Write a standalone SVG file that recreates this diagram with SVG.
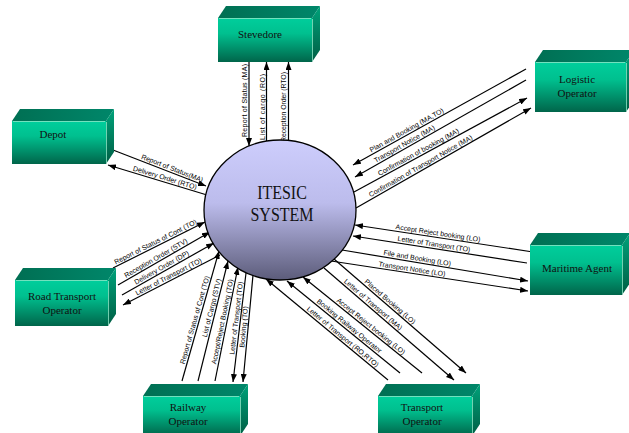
<svg xmlns="http://www.w3.org/2000/svg" width="629" height="433" viewBox="0 0 629 433">
  <defs>
    <linearGradient id="gFront" x1="0" y1="0" x2="0" y2="1">
      <stop offset="0" stop-color="#00CE9C"/>
      <stop offset="0.35" stop-color="#00C08F"/>
      <stop offset="1" stop-color="#00654A"/>
    </linearGradient>
    <linearGradient id="gTop" x1="0" y1="0" x2="1" y2="0">
      <stop offset="0" stop-color="#006F53"/>
      <stop offset="1" stop-color="#00876A"/>
    </linearGradient>
    <linearGradient id="gSide" x1="0" y1="0" x2="0" y2="1">
      <stop offset="0" stop-color="#00A27A"/>
      <stop offset="1" stop-color="#005E44"/>
    </linearGradient>
    <linearGradient id="gCore" x1="0" y1="0" x2="0" y2="1">
      <stop offset="0" stop-color="#CDCDFC"/>
      <stop offset="0.45" stop-color="#BCBCEC"/>
      <stop offset="1" stop-color="#5C5C7A"/>
    </linearGradient>
    <marker id="arrow" viewBox="0 0 8 6" refX="8" refY="3" markerWidth="8" markerHeight="6" markerUnits="userSpaceOnUse" orient="auto">
      <path d="M0,0 L8,3 L0,6 z" fill="#000"/>
    </marker>
  </defs>
  <style>
    .front { fill: url(#gFront); }
    .top { fill: url(#gTop); }
    .side { fill: url(#gSide); }
    .hl { stroke: #8FE6C6; stroke-width: 0.8; fill: none; }
    .name { font-family: "Liberation Serif", "Times New Roman", serif; font-size: 11px; fill: #111; text-anchor: middle; }
    .core { fill: url(#gCore); stroke: #000; stroke-width: 1.3; }
    .coreName { font-family: "Liberation Serif", "Times New Roman", serif; font-size: 16px; fill: #111; text-anchor: middle; }
    .wire { stroke: #000; stroke-width: 1.2; fill: none; }
    .to { marker-end: url(#arrow); }
    .lbl { font-family: "Liberation Sans", Arial, sans-serif; font-size: 7px; fill: #000; }
  </style>

  <rect width="629" height="433" fill="#fff"/>

  <!-- connectors -->
  <g id="connectors">
    <!-- Stevedore -->
    <line class="wire to" x1="249" y1="62" x2="249" y2="146"/>
    <text class="lbl" transform="translate(249,137) rotate(-90)" y="-2" textLength="73" lengthAdjust="spacing">Report of Status (MA)</text>
    <line class="wire to" x1="266.5" y1="141" x2="266.5" y2="62"/>
    <text class="lbl" transform="translate(266.5,140) rotate(-90)" y="-2" textLength="66" lengthAdjust="spacing">List of cargo (RO)</text>
    <line class="wire to" x1="288.5" y1="140" x2="288.5" y2="62"/>
    <text class="lbl" transform="translate(288.5,142) rotate(-90)" y="-3" textLength="70" lengthAdjust="spacing">Reception Order (RTO)</text>

    <!-- Depot -->
    <line class="wire to" x1="113" y1="150" x2="206" y2="186"/>
    <text class="lbl" transform="translate(140,160.5) rotate(21.2)" y="-2">Report of Status(MA)</text>
    <line class="wire to" x1="207" y1="195" x2="108" y2="165"/>
    <text class="lbl" transform="translate(132,172.3) rotate(16.9)" y="-2">Delivery Order (RTO)</text>

    <!-- Logistic Operator -->
    <line class="wire to" x1="526" y1="69" x2="353" y2="165"/>
    <text class="lbl" transform="translate(372.3,154.3) rotate(-29)" y="-2">Plan and Booking (MA,TO)</text>
    <line class="wire to" x1="526" y1="80" x2="355" y2="177"/>
    <text class="lbl" transform="translate(376.8,164.7) rotate(-29.6)" y="-2">Transport Notice (MA)</text>
    <line class="wire to" x1="354" y1="192" x2="527" y2="98"/>
    <text class="lbl" transform="translate(380.4,177.7) rotate(-28.5)" y="-2">Confirmation of booking (MA)</text>
    <line class="wire to" x1="356" y1="208" x2="531" y2="108"/>
    <text class="lbl" transform="translate(371.6,199.1) rotate(-29.7)" y="-2">Confirmation of Transport Notice (MA)</text>

    <!-- Maritime Agent -->
    <line class="wire to" x1="533" y1="252" x2="355" y2="225"/>
    <text class="lbl" transform="translate(395,231.1) rotate(8.6)" y="-2">Accept Reject booking (LO)</text>
    <line class="wire to" x1="527" y1="263" x2="353" y2="236"/>
    <text class="lbl" transform="translate(397,242.8) rotate(8.8)" y="-2">Letter of Transport (TO)</text>
    <line class="wire to" x1="342" y1="250" x2="528" y2="281"/>
    <text class="lbl" transform="translate(383,256.8) rotate(9.5)" y="-2">File and Booking (LO)</text>
    <line class="wire to" x1="331" y1="261" x2="528" y2="291"/>
    <text class="lbl" transform="translate(378,268.2) rotate(8.7)" y="-2">Transport Notice (LO)</text>

    <!-- Road Transport Operator -->
    <line class="wire to" x1="113" y1="268" x2="205" y2="222"/>
    <text class="lbl" transform="translate(116.6,266.2) rotate(-26.6)" y="-2">Report of Status of Cont (TO)</text>
    <line class="wire to" x1="118" y1="285" x2="210" y2="232"/>
    <text class="lbl" transform="translate(127,279.8) rotate(-29.9)" y="-2">Reception Order (STV)</text>
    <line class="wire to" x1="122" y1="295" x2="214" y2="243"/>
    <text class="lbl" transform="translate(137,286.5) rotate(-29.5)" y="-2">Delivery Order (DP)</text>
    <line class="wire to" x1="220" y1="255" x2="123" y2="305"/>
    <text class="lbl" transform="translate(138,297.3) rotate(-27.3)" y="-2">Letter of Transport (TO)</text>

    <!-- Railway Operator -->
    <line class="wire to" x1="182" y1="381" x2="219" y2="251"/>
    <text class="lbl" transform="translate(186.3,365) rotate(-74)" y="-2">Report of Status of Cont (TO)</text>
    <line class="wire to" x1="198" y1="381" x2="228" y2="261"/>
    <text class="lbl" transform="translate(208.6,338) rotate(-75.9)" y="-2">List of Cargo (STV)</text>
    <line class="wire to" x1="215" y1="381" x2="238" y2="267"/>
    <text class="lbl" transform="translate(218,365) rotate(-78.5)" y="-2">Accept/Reject Booking (TO)</text>
    <line class="wire to" x1="246" y1="273" x2="233" y2="382"/>
    <text class="lbl" transform="translate(236.2,355) rotate(-83.2)" y="-2">Letter of Transport (TO)</text>
    <line class="wire to" x1="253" y1="275" x2="243" y2="382"/>
    <text class="lbl" transform="translate(246.2,348) rotate(-84.7)" y="-2">Booking (TO)</text>

    <!-- Transport Operator -->
    <line class="wire to" x1="334" y1="259" x2="466" y2="373"/>
    <text class="lbl" transform="translate(362.8,283.8) rotate(40.8)" y="-2">Placed Booking (LO)</text>
    <line class="wire to" x1="324" y1="268" x2="454" y2="380"/>
    <text class="lbl" transform="translate(342.2,283.6) rotate(40.7)" y="-2">Letter of Transport (MA)</text>
    <line class="wire to" x1="422" y1="373" x2="303" y2="277"/>
    <text class="lbl" transform="translate(334.9,302.7) rotate(38.9)" y="-2">Accept Reject booking (LO)</text>
    <line class="wire to" x1="400" y1="373" x2="287" y2="281"/>
    <text class="lbl" transform="translate(315,303.7) rotate(39.2)" y="-2">Booking Railway Operator</text>
    <line class="wire to" x1="388" y1="380" x2="266" y2="279"/>
    <text class="lbl" transform="translate(305,311.2) rotate(39.6)" y="-2">Letter of Transport (RO,RTO)</text>
  </g>

  <!-- central system -->
  <g id="node-itesic">
    <ellipse class="core" cx="280" cy="210" rx="76" ry="70"/>
    <text class="coreName" transform="translate(282,199) scale(1,1.2)">ITESIC</text>
    <text class="coreName" transform="translate(282,221) scale(1,1.2)">SYSTEM</text>
  </g>

  <!-- external parties: front face, top face, right face -->
  <g id="node-stevedore">
    <polygon class="top" points="218,18 226,6 320,6 312,18"/>
    <polygon class="side" points="312,18 320,6 320,50 312,62"/>
    <rect class="front" x="218" y="18" width="94" height="44"/>
    <path class="hl" d="M219,18.5 H311 M312.5,19 V61"/>
    <text class="name" x="260" y="38">Stevedore</text>
  </g>

  <g id="node-depot">
    <polygon class="top" points="12,121 20,109 114,109 106,121"/>
    <polygon class="side" points="106,121 114,109 114,152 106,164"/>
    <rect class="front" x="12" y="121" width="94" height="43"/>
    <path class="hl" d="M13,121.5 H105 M106.5,122 V163"/>
    <text class="name" x="53" y="137.5">Depot</text>
  </g>

  <g id="node-logistic">
    <polygon class="top" points="535,62 543,50 634,50 626,62"/>
    <polygon class="side" points="626,62 634,50 634,100 626,112"/>
    <rect class="front" x="535" y="62" width="91" height="50"/>
    <path class="hl" d="M536,62.5 H625 M626.5,63 V111"/>
    <text class="name" x="577" y="82.5">Logistic</text>
    <text class="name" x="577" y="96.5">Operator</text>
  </g>

  <g id="node-maritime">
    <polygon class="top" points="530,245 538,233 630,233 622,245"/>
    <polygon class="side" points="622,245 630,233 630,283 622,295"/>
    <rect class="front" x="530" y="245" width="92" height="50"/>
    <path class="hl" d="M531,245.5 H621 M622.5,246 V294"/>
    <text class="name" x="577" y="271.5">Maritime Agent</text>
  </g>

  <g id="node-road">
    <polygon class="top" points="15,280 23,268 116,268 108,280"/>
    <polygon class="side" points="108,280 116,268 116,314 108,326"/>
    <rect class="front" x="15" y="280" width="93" height="46"/>
    <path class="hl" d="M16,280.5 H107 M108.5,281 V325"/>
    <text class="name" x="62" y="299.5">Road Transport</text>
    <text class="name" x="62" y="313.5">Operator</text>
  </g>

  <g id="node-railway">
    <polygon class="top" points="143,396 151,384 248,384 240,396"/>
    <polygon class="side" points="240,396 248,384 248,424 240,436"/>
    <rect class="front" x="143" y="396" width="97" height="40"/>
    <path class="hl" d="M144,396.5 H239 M240.5,397 V435"/>
    <text class="name" x="188" y="411">Railway</text>
    <text class="name" x="188" y="425">Operator</text>
  </g>

  <g id="node-transport">
    <polygon class="top" points="378,396 386,384 480,384 472,396"/>
    <polygon class="side" points="472,396 480,384 480,424 472,436"/>
    <rect class="front" x="378" y="396" width="94" height="40"/>
    <path class="hl" d="M379,396.5 H471 M472.5,397 V435"/>
    <text class="name" x="422" y="411">Transport</text>
    <text class="name" x="422" y="425">Operator</text>
  </g>
</svg>
